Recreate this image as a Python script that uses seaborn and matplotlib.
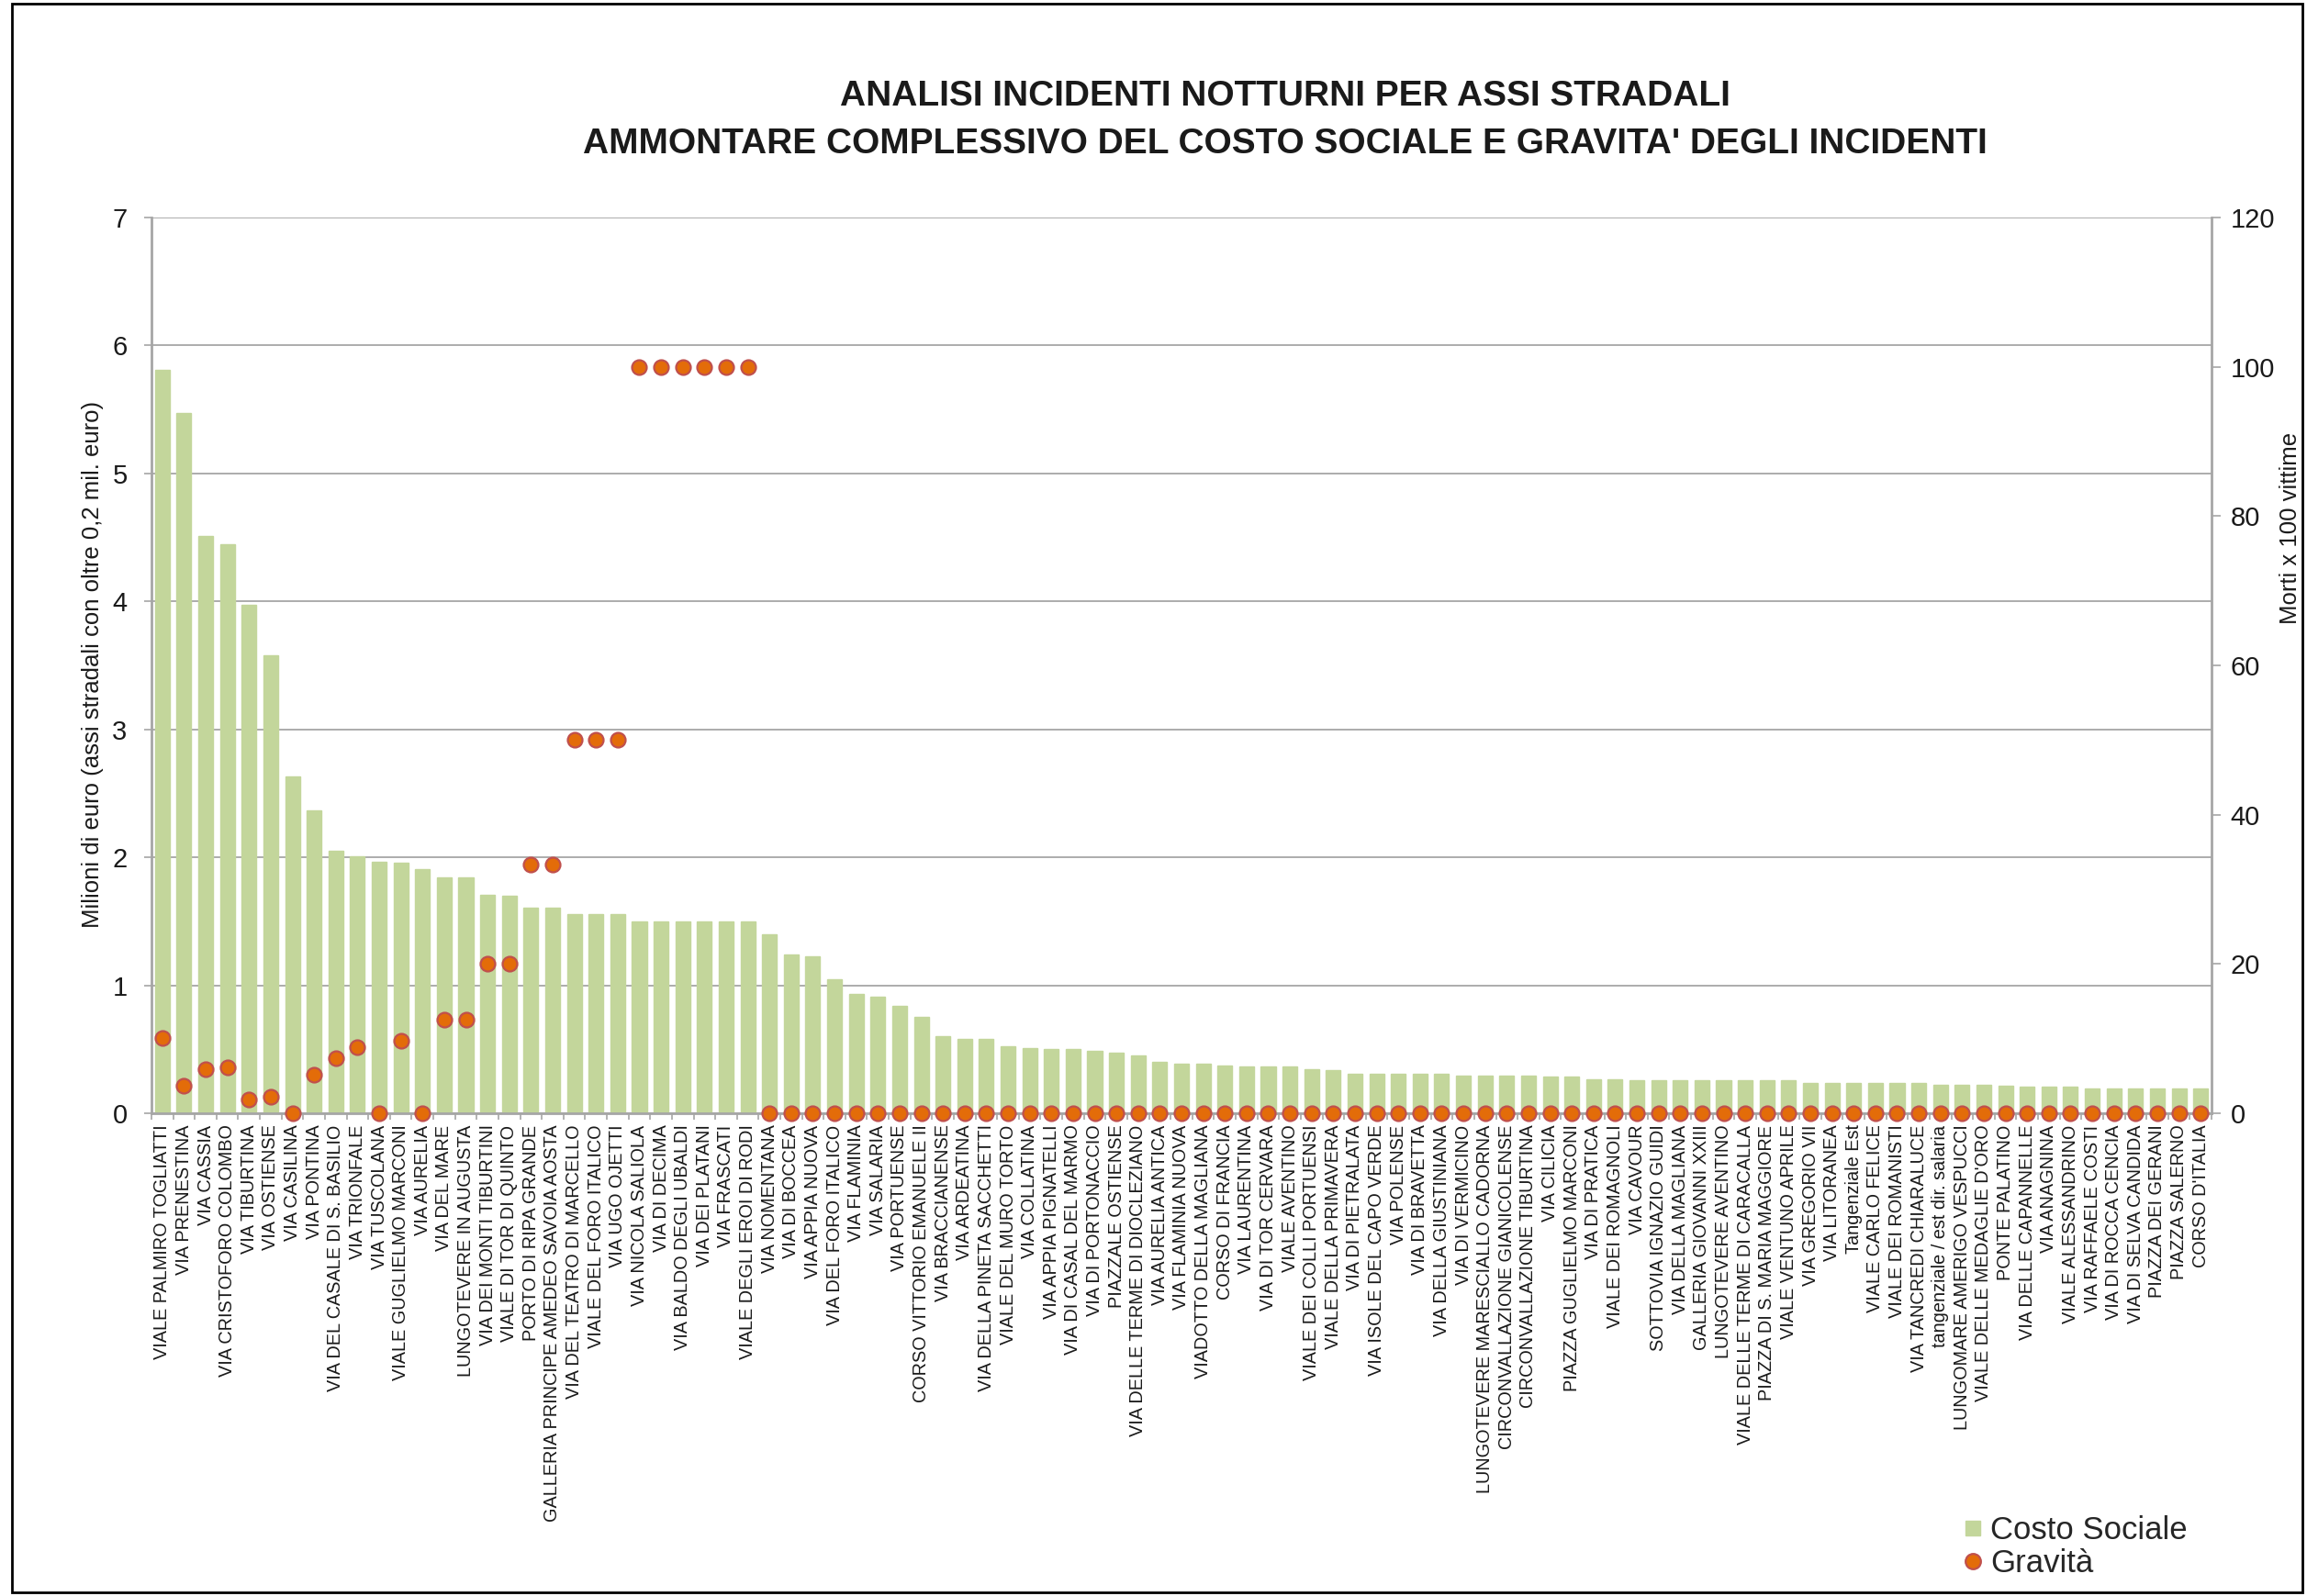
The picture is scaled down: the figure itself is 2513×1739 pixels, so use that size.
import numpy as np
import pandas as pd
import matplotlib
matplotlib.use("Agg")
import matplotlib.pyplot as plt
import seaborn as sns
from matplotlib.lines import Line2D
from matplotlib.patches import Rectangle

# Road axes, ordered by social cost
strade = [
    "VIALE PALMIRO TOGLIATTI", "VIA PRENESTINA", "VIA CASSIA", "VIA CRISTOFORO COLOMBO",
    "VIA TIBURTINA", "VIA OSTIENSE", "VIA CASILINA", "VIA PONTINA",
    "VIA DEL CASALE DI S. BASILIO", "VIA TRIONFALE", "VIA TUSCOLANA", "VIALE GUGLIELMO MARCONI",
    "VIA AURELIA", "VIA DEL MARE", "LUNGOTEVERE IN AUGUSTA", "VIA DEI MONTI TIBURTINI",
    "VIALE DI TOR DI QUINTO", "PORTO DI RIPA GRANDE", "GALLERIA PRINCIPE AMEDEO SAVOIA AOSTA",
    "VIA DEL TEATRO DI MARCELLO", "VIALE DEL FORO ITALICO", "VIA UGO OJETTI",
    "VIA NICOLA SALIOLA", "VIA DI DECIMA", "VIA BALDO DEGLI UBALDI", "VIA DEI PLATANI",
    "VIA FRASCATI", "VIALE DEGLI EROI DI RODI", "VIA NOMENTANA", "VIA DI BOCCEA",
    "VIA APPIA NUOVA", "VIA DEL FORO ITALICO", "VIA FLAMINIA", "VIA SALARIA",
    "VIA PORTUENSE", "CORSO VITTORIO EMANUELE II", "VIA BRACCIANENSE", "VIA ARDEATINA",
    "VIA DELLA PINETA SACCHETTI", "VIALE DEL MURO TORTO", "VIA COLLATINA",
    "VIA APPIA PIGNATELLI", "VIA DI CASAL DEL MARMO", "VIA DI PORTONACCIO",
    "PIAZZALE OSTIENSE", "VIA DELLE TERME DI DIOCLEZIANO", "VIA AURELIA ANTICA",
    "VIA FLAMINIA NUOVA", "VIADOTTO DELLA MAGLIANA", "CORSO DI FRANCIA", "VIA LAURENTINA",
    "VIA DI TOR CERVARA", "VIALE AVENTINO", "VIALE DEI COLLI PORTUENSI",
    "VIALE DELLA PRIMAVERA", "VIA DI PIETRALATA", "VIA ISOLE DEL CAPO VERDE",
    "VIA POLENSE", "VIA DI BRAVETTA", "VIA DELLA GIUSTINIANA", "VIA DI VERMICINO",
    "LUNGOTEVERE MARESCIALLO CADORNA", "CIRCONVALLAZIONE GIANICOLENSE",
    "CIRCONVALLAZIONE TIBURTINA", "VIA CILICIA", "PIAZZA GUGLIELMO MARCONI",
    "VIA DI PRATICA", "VIALE DEI ROMAGNOLI", "VIA CAVOUR", "SOTTOVIA IGNAZIO GUIDI",
    "VIA DELLA MAGLIANA", "GALLERIA GIOVANNI XXIII", "LUNGOTEVERE AVENTINO",
    "VIALE DELLE TERME DI CARACALLA", "PIAZZA DI S. MARIA MAGGIORE",
    "VIALE VENTUNO APRILE", "VIA GREGORIO VII", "VIA LITORANEA", "Tangenziale Est",
    "VIALE CARLO FELICE", "VIALE DEI ROMANISTI", "VIA TANCREDI CHIARALUCE",
    "tangenziale / est dir. salaria", "LUNGOMARE AMERIGO VESPUCCI",
    "VIALE DELLE MEDAGLIE D'ORO", "PONTE PALATINO", "VIA DELLE CAPANNELLE",
    "VIA ANAGNINA", "VIALE ALESSANDRINO", "VIA RAFFAELE COSTI", "VIA DI ROCCA CENCIA",
    "VIA DI SELVA CANDIDA", "PIAZZA DEI GERANI", "PIAZZA SALERNO", "CORSO D'ITALIA",
]

# Social cost (millions of euro)
costo_sociale = [
    5.81, 5.47, 4.51, 4.45, 3.97, 3.58, 2.63, 2.37, 2.05, 2.01,
    1.965, 1.955, 1.91, 1.845, 1.845, 1.71, 1.70, 1.61, 1.61, 1.555,
    1.555, 1.555, 1.50, 1.50, 1.50, 1.50, 1.50, 1.50, 1.40, 1.24,
    1.23, 1.045, 0.93, 0.91, 0.84, 0.75, 0.60, 0.58, 0.58, 0.52,
    0.51, 0.50, 0.50, 0.49, 0.47, 0.45, 0.40, 0.385, 0.385, 0.375,
    0.365, 0.365, 0.365, 0.345, 0.335, 0.31, 0.305, 0.305, 0.305, 0.305,
    0.297, 0.297, 0.297, 0.297, 0.287, 0.287, 0.268, 0.268, 0.256, 0.256,
    0.256, 0.256, 0.256, 0.256, 0.256, 0.256, 0.237, 0.237, 0.237, 0.237,
    0.237, 0.237, 0.225, 0.225, 0.225, 0.215, 0.206, 0.206, 0.206, 0.196,
    0.196, 0.196, 0.196, 0.196, 0.196,
]

# Severity: deaths per 100 victims
gravita = [
    10.1, 3.7, 5.9, 6.2, 1.8, 2.2, 0, 5.2, 7.4, 8.9,
    0, 9.7, 0, 12.5, 12.5, 20, 20, 33.3, 33.3, 50,
    50, 50, 100, 100, 100, 100, 100, 100, 0, 0,
    0, 0, 0, 0, 0, 0, 0, 0, 0, 0,
    0, 0, 0, 0, 0, 0, 0, 0, 0, 0,
    0, 0, 0, 0, 0, 0, 0, 0, 0, 0,
    0, 0, 0, 0, 0, 0, 0, 0, 0, 0,
    0, 0, 0, 0, 0, 0, 0, 0, 0, 0,
    0, 0, 0, 0, 0, 0, 0, 0, 0, 0,
    0, 0, 0, 0, 0,
]

titolo = ["ANALISI INCIDENTI NOTTURNI PER ASSI STRADALI",
          "AMMONTARE COMPLESSIVO DEL COSTO SOCIALE E GRAVITA' DEGLI INCIDENTI"]

df = pd.DataFrame({"strada": strade, "costo": costo_sociale, "gravita": gravita})

sns.set_style("white")
plt.rcParams["font.family"] = ["Liberation Sans", "DejaVu Sans"]

VERDE = "#C3D69B"
ARANCIO = "#E36C09"
ROSSO = "#C0504D"
GRIGIO = "#A6A6A6"
TESTO = "#1A1A1A"

W, H = 2513, 1739
fig = plt.figure(figsize=(W / 100, H / 100), dpi=100)
ax = fig.add_axes([165 / W, 1 - 1213 / H, (2409 - 165) / W, (1213 - 237) / H])

sns.barplot(data=df, x="strada", y="costo", order=strade, color=VERDE,
            saturation=1, width=0.68, ax=ax, zorder=2)
for p in ax.patches:
    p.set_edgecolor(VERDE)

ax2 = ax.twinx()
sns.stripplot(data=df, x="strada", y="gravita", order=strade, jitter=False,
              color=ARANCIO, edgecolor=ROSSO, linewidth=1.6, size=11.5,
              ax=ax2, zorder=5, clip_on=False)

n = len(strade)
ax.set_xlim(-0.5, n - 0.5)
ax.set_ylim(0, 7)
ax.set_yticks(np.arange(0, 8, 1))
ax2.set_ylim(0, 120)
ax2.set_yticks(np.arange(0, 121, 20))

ax.set_axisbelow(True)
ax.yaxis.grid(True, color=GRIGIO, lw=1.3)
ax.xaxis.grid(False)
ax2.grid(False)

for a in (ax, ax2):
    for s in a.spines.values():
        s.set_visible(False)
ax.spines["left"].set_visible(True)
ax.spines["left"].set_color(GRIGIO)
ax.spines["left"].set_linewidth(2)
ax.spines["bottom"].set_visible(True)
ax.spines["bottom"].set_color(GRIGIO)
ax.spines["bottom"].set_linewidth(2)
ax2.spines["right"].set_visible(True)
ax2.spines["right"].set_color(GRIGIO)
ax2.spines["right"].set_linewidth(2)

ax.set_xlabel("")
ax.set_ylabel("")
ax2.set_ylabel("")

ax.set_xticks(np.arange(n))
ax.set_xticklabels(strade, rotation=90, ha="center", va="top",
                   fontsize=14.3, color=TESTO)
ax.set_xticks(np.arange(-0.5, n, 1), minor=True)
ax.tick_params(axis="x", which="major", length=0, pad=9)
ax.tick_params(axis="x", which="minor", length=5, width=1.2, color=GRIGIO,
               direction="out", bottom=True)
ax.tick_params(axis="y", which="major", length=6, width=1.2, color=GRIGIO,
               direction="out", left=True, pad=13, labelsize=21, labelcolor=TESTO)
ax2.tick_params(axis="y", which="major", length=7, width=1.2, color=GRIGIO,
                direction="out", right=True, pad=8, labelsize=21, labelcolor=TESTO)

fig.text(0.557, 1 - 105 / H, titolo[0], ha="center", va="center",
         fontsize=28, fontweight="bold", color=TESTO)
fig.text(0.557, 1 - 157 / H, titolo[1], ha="center", va="center",
         fontsize=28, fontweight="bold", color=TESTO)

fig.text(101 / W, 1 - 724 / H,
         "Milioni di euro (assi stradali con oltre 0,2 mil. euro)",
         rotation=90, ha="center", va="center", fontsize=18.5, color=TESTO)
fig.text(2495 / W, 1 - 575 / H, "Morti x 100 vittime",
         rotation=90, ha="center", va="center", fontsize=18.5, color=TESTO)

handles = [
    Line2D([], [], ls="", marker="s", markersize=12, markerfacecolor=VERDE,
           markeredgecolor=VERDE),
    Line2D([], [], ls="", marker="o", markersize=12, markerfacecolor=ARANCIO,
           markeredgecolor=ROSSO, markeredgewidth=1.6),
]
fig.legend(handles, ["Costo Sociale", "Gravità"], loc="upper left",
           bbox_to_anchor=(2140 / W, 1 - 1651 / H), frameon=False,
           borderpad=0, borderaxespad=0, handlelength=0.5, handletextpad=0.3,
           labelspacing=0.1, fontsize=25)

fig.patches.append(Rectangle((13 / W, 4 / H), (2508 - 13) / W, (1735 - 4) / H,
                             transform=fig.transFigure, fill=False,
                             edgecolor="black", lw=2))

fig.savefig("out.png", dpi=100, facecolor="white")
